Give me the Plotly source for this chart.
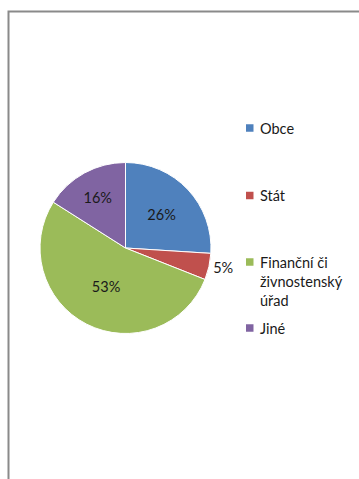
import plotly.graph_objects as go

# Share of respondents by institution
categories = ["Obce", "Stát", "Finanční či<br>živnostenský<br>úřad", "Jiné"]
shares = [26, 5, 53, 16]
colors = ["#4F81BD", "#C0504D", "#9BBB59", "#8064A2"]
text_positions = ["inside", "outside", "inside", "inside"]

W, H = 359, 479
FONT = "Lato, 'Open Sans', sans-serif"
TEXT_COLOR = "#1A1A1A"

# pie geometry in pixels
cx, cy, r = 125.5, 248, 85.5

fig = go.Figure(
    go.Pie(
        labels=categories,
        values=shares,
        sort=False,
        direction="clockwise",
        rotation=0,
        marker=dict(colors=colors, line=dict(color="white", width=1)),
        texttemplate="%{percent:.0%}",
        textposition=text_positions,
        insidetextorientation="horizontal",
        textfont=dict(family=FONT, size=14.5, color=TEXT_COLOR),
        showlegend=False,
        hoverinfo="label+percent",
        domain=dict(
            x=[(cx - r) / W, (cx + r) / W],
            y=[1 - (cy + r) / H, 1 - (cy - r) / H],
        ),
    )
)

# legend drawn at the right, one entry per category
legend_y = [128, 195.5, 262, 328]
shapes = [
    dict(type="rect", xref="paper", yref="paper",
         x0=8.5 / W, x1=1.05, y0=-0.05, y1=1 - 11.5 / H,
         line=dict(color="#8A8A8A", width=2), fillcolor="rgba(0,0,0,0)")
]
annotations = []
for cat, col, ly in zip(categories, colors, legend_y):
    shapes.append(dict(type="rect", xref="paper", yref="paper",
                       x0=246 / W, x1=253.5 / W,
                       y0=1 - (ly + 3.75) / H, y1=1 - (ly - 3.75) / H,
                       line=dict(width=0), fillcolor=col))
    annotations.append(dict(xref="paper", yref="paper", x=257.5 / W,
                            y=1 - (ly - 10.5) / H, xanchor="left", yanchor="top",
                            align="left", showarrow=False, text=cat,
                            font=dict(family=FONT, size=14.5, color=TEXT_COLOR)))

fig.update_layout(
    width=W, height=H,
    margin=dict(l=0, r=0, t=0, b=0),
    paper_bgcolor="white",
    plot_bgcolor="white",
    shapes=shapes,
    annotations=annotations,
)

fig.write_html("out.html")
